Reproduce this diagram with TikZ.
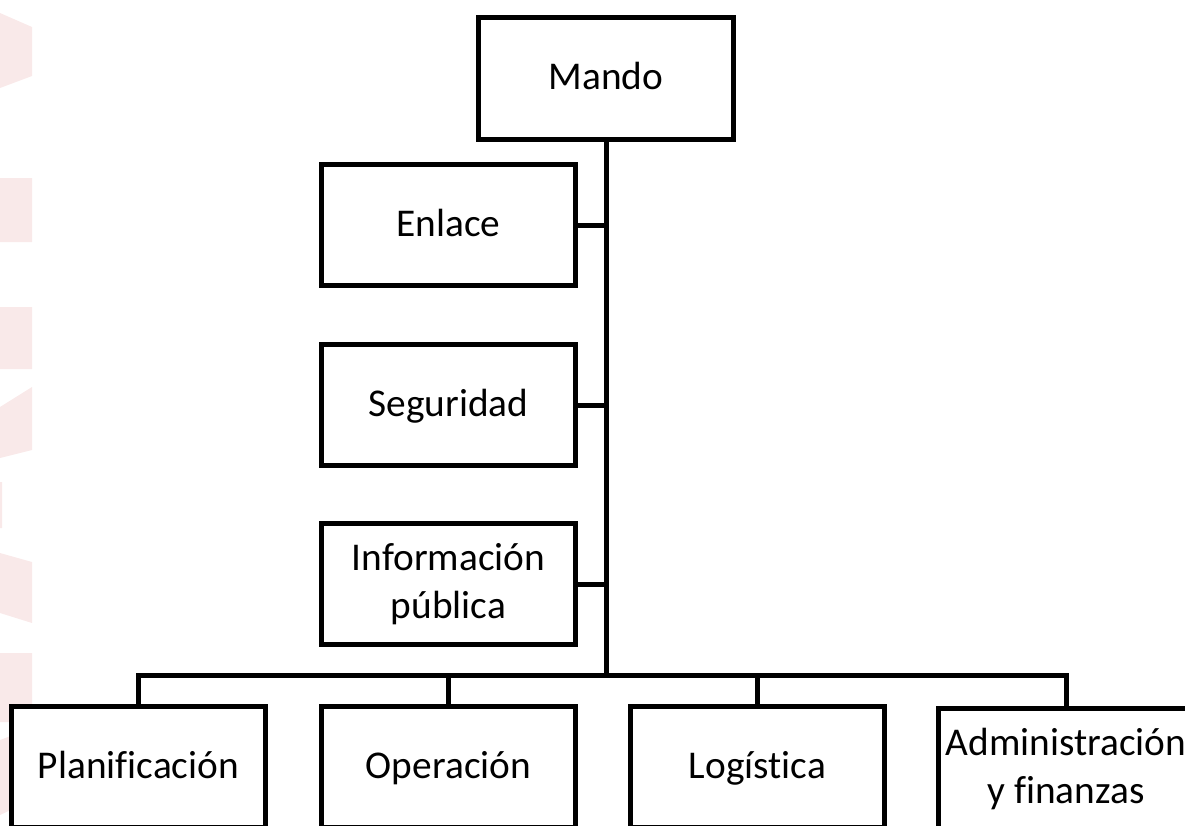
\documentclass[tikz,border=0pt]{standalone}
\usepackage{fontspec}
\setmainfont{Carlito}[Ligatures=CommonOff]
\definecolor{pinkwm}{RGB}{249,233,233}
\begin{document}
\begin{tikzpicture}[
x=0.75pt,y=-0.75pt,
watermark/.style={fill=pinkwm},
unit/.style={draw,fill=white,line width=3.75pt,minimum width=191pt,minimum height=91pt,
  inner sep=0pt,align=center,font=\fontsize{29.5}{36}\selectfont},
oneline/.style={text height=22pt,text depth=5pt},
wire/.style={line width=3.75pt},
]
\useasboundingbox (0,0) rectangle (1185,825);
% faint marks on the left edge
\path[watermark]
    (0,13) -- (32,27) -- (32,76) -- (0,88) -- cycle
    (0,178) rectangle (32,242)
    (0,307) rectangle (32,369)
    (0,407) -- (32,387) -- (32,450) -- (0,458) -- cycle
    (0,482) rectangle (2,528)
    (0,553) -- (32,562) -- (32,623) -- (0,613) -- cycle
    (0,653) rectangle (32,722)
    (0,740) -- (32,728) -- (32,800) -- (0,815) -- cycle;
% boxes
\node[unit,oneline] (mando) at (606,78.5) {Mando};
\node[unit,oneline] (enlace) at (448.5,225) {Enlace};
\node[unit,oneline] (seguridad) at (448.5,405) {Seguridad};
\node[unit] (info) at (448.5,584) {Información\\pública};
\node[unit,oneline] (plan) at (138.5,767) {Planificación};
\node[unit,oneline] (oper) at (448.5,767) {Operación};
\node[unit,oneline] (logi) at (757.5,767) {Logística};
\node[unit] (admin) at (1066,769) {Administración\\y finanzas};
\coordinate (bus) at (606,675);
% connectors
\draw[wire] (mando.south) -- (bus);
\draw[wire] (enlace.east) -- (enlace.east -| bus);
\draw[wire] (seguridad.east) -- (seguridad.east -| bus);
\draw[wire] (info.east) -- (info.east -| bus);
\draw[wire] (plan.north) -- (plan.north |- bus) -- (admin.north |- bus) -- (admin.north);
\draw[wire] (oper.north) -- (oper.north |- bus);
\draw[wire] (logi.north) -- (logi.north |- bus);
\end{tikzpicture}
\end{document}
